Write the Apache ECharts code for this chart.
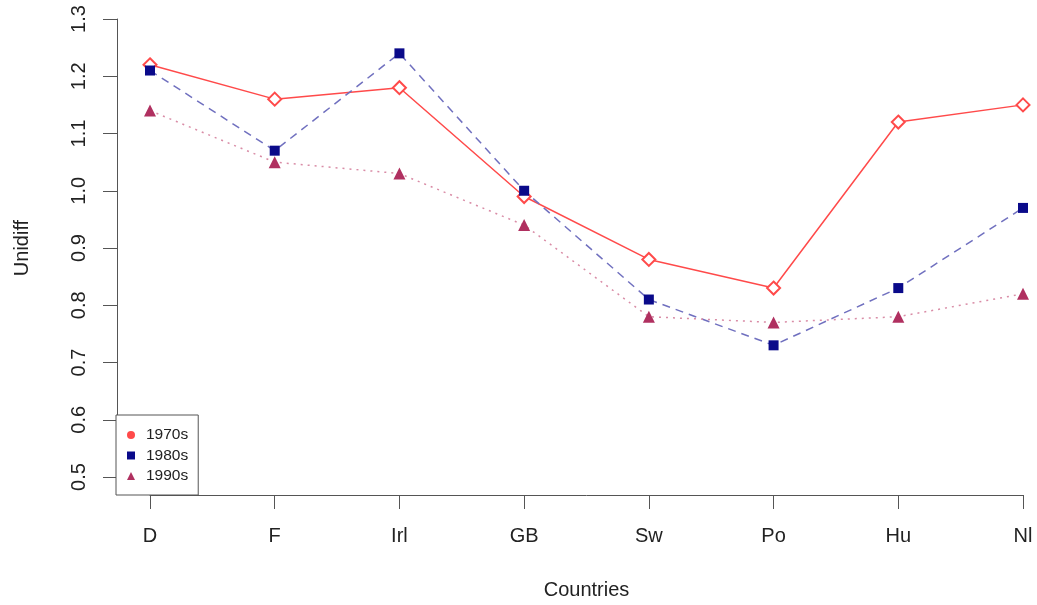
<!DOCTYPE html>
<html>
<head>
<meta charset="utf-8">
<script src="https://cdn.jsdelivr.net/npm/echarts@6/dist/echarts.min.js"></script>
<style>
  html, body { margin: 0; padding: 0; background: #fff; }
  #chart { width: 1037px; height: 605px; }
</style>
</head>
<body>
<div id="chart"></div>
<script>
// Countries along the x axis
const countries = ['D', 'F', 'Irl', 'GB', 'Sw', 'Po', 'Hu', 'Nl'];

// Unidiff parameter per decade
const unidiff1970s = [1.22, 1.16, 1.18, 0.99, 0.88, 0.83, 1.12, 1.15];
const unidiff1980s = [1.21, 1.07, 1.24, 1.00, 0.81, 0.73, 0.83, 0.97];
const unidiff1990s = [1.14, 1.05, 1.03, 0.94, 0.78, 0.77, 0.78, 0.82];

const decades = ['1970s', '1980s', '1990s'];

const textColor = '#222';
const axisColor = '#555';
const fontFamily = 'Liberation Sans, Arial, sans-serif';

const chart = echarts.init(document.getElementById('chart'));

chart.setOption({
  animation: false,
  backgroundColor: '#fff',
  textStyle: { fontFamily: fontFamily, color: textColor },
  grid: { left: 150, right: 14, top: 19, bottom: 128, containLabel: false },
  xAxis: {
    type: 'category',
    data: countries,
    boundaryGap: false,
    offset: 18,
    name: 'Countries',
    nameLocation: 'middle',
    nameGap: 85,
    nameTextStyle: { fontSize: 20, color: textColor, fontFamily: fontFamily },
    axisLine: { show: true, lineStyle: { color: axisColor, width: 1 } },
    axisTick: { show: true, length: 14, alignWithLabel: true, lineStyle: { color: axisColor, width: 1 } },
    axisLabel: { fontSize: 20, color: textColor, margin: 31, fontFamily: fontFamily },
    splitLine: { show: false }
  },
  yAxis: {
    type: 'value',
    min: 0.5,
    max: 1.3,
    interval: 0.1,
    offset: 33,
    name: 'Unidiff',
    nameLocation: 'middle',
    nameGap: 85,
    nameRotate: 90,
    nameTextStyle: { fontSize: 20, color: textColor, fontFamily: fontFamily },
    axisLine: { show: true, lineStyle: { color: axisColor, width: 1 } },
    axisTick: { show: true, length: 14, lineStyle: { color: axisColor, width: 1 } },
    axisLabel: {
      fontSize: 20, color: textColor, margin: 28, rotate: 90, fontFamily: fontFamily,
      formatter: v => v.toFixed(1)
    },
    splitLine: { show: false }
  },
  legend: {
    orient: 'vertical',
    left: 116,
    top: 415,
    padding: [11, 10, 10, 11],
    itemGap: 2.5,
    itemWidth: 8,
    itemHeight: 8,
    symbolKeepAspect: true,
    borderColor: axisColor,
    borderWidth: 1,
    backgroundColor: '#fff',
    selectedMode: false,
    textStyle: {
      fontSize: 15.5, lineHeight: 18, color: textColor, fontFamily: fontFamily,
      padding: [0, 0, 0, 6]
    },
    data: [
      { name: decades[0], icon: 'circle', itemStyle: { color: '#ff4a4a', borderWidth: 0 } },
      { name: decades[1], icon: 'rect', itemStyle: { color: '#0a0a8a', borderWidth: 0 } },
      { name: decades[2], icon: 'triangle', itemStyle: { color: '#b03060', borderWidth: 0 } }
    ]
  },
  series: [
    {
      name: decades[0],
      type: 'line',
      data: unidiff1970s,
      clip: false,
      symbol: 'emptyDiamond',
      symbolSize: 13,
      itemStyle: { color: '#ff4a4a', borderColor: '#ff4a4a', borderWidth: 1.5 },
      lineStyle: { color: '#ff4a4a', width: 1.5, type: 'solid' },
      z: 3
    },
    {
      name: decades[1],
      type: 'line',
      data: unidiff1980s,
      clip: false,
      symbol: 'rect',
      symbolSize: 10,
      itemStyle: { color: '#0a0a8a' },
      lineStyle: { color: '#7070bf', width: 1.5, type: [8, 6] },
      z: 4
    },
    {
      name: decades[2],
      type: 'line',
      data: unidiff1990s,
      clip: false,
      symbol: 'triangle',
      symbolSize: 12,
      itemStyle: { color: '#b03060' },
      lineStyle: { color: '#d98ca6', width: 1.5, type: [2, 5] },
      z: 5
    }
  ]
});
</script>
</body>
</html>
